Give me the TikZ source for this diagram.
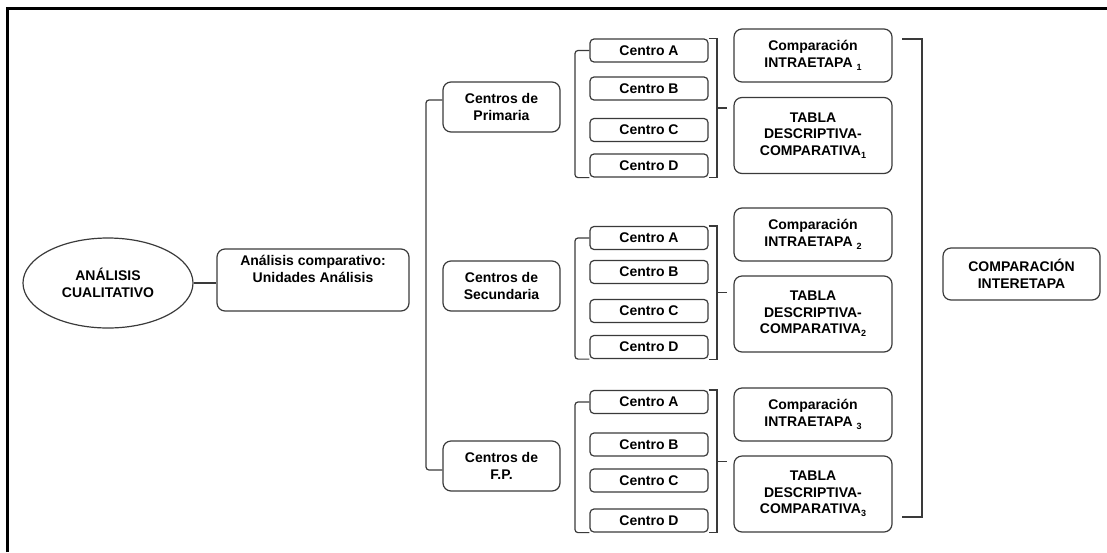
\documentclass[tikz,border=0pt]{standalone}
\usepackage{fontspec}
\setmainfont{Liberation Sans}
\usetikzlibrary{shapes.geometric,calc}
\newcommand{\subidx}[1]{\raisebox{-0.45ex}{\fontsize{9}{9}\selectfont #1}}
\definecolor{linec}{HTML}{3A3A3A}
\begin{document}
\begin{tikzpicture}[x=1pt,y=-1pt,
  every node/.style={font=\bfseries\fontsize{14}{16.5}\selectfont, text=black, align=center, inner sep=1pt},
  conn/.style={draw=linec, line width=1.2pt},
  bigbox/.style={draw=linec, line width=1.2pt, rounded corners=8pt},
  centrobox/.style={draw=linec, line width=1.2pt, rounded corners=4pt, minimum width=118pt, minimum height=23pt},
  intrabox/.style={bigbox, minimum width=158pt, minimum height=53pt},
  tablabox/.style={bigbox, minimum width=158pt, minimum height=76pt},
  centrosbox/.style={bigbox, minimum width=117pt, minimum height=50pt}
]
\useasboundingbox (0,0) rectangle (1107,552);
\draw[line width=3pt] (7,552) -- (7,8) -- (1107,8);

% main nodes
\node[ellipse, draw=linec, line width=1.2pt, minimum width=170pt, minimum height=90pt] (acu) at (108,283) {ANÁLISIS\\CUALITATIVO};
\node[bigbox, minimum width=192pt, minimum height=62pt] (auc) at (313,280) {Análisis comparativo:\\Unidades Análisis\\[6pt]};
\node[centrosbox] (cp) at (501.5,107) {Centros de\\Primaria};
\node[centrosbox] (cs) at (501.5,286) {Centros de\\Secundaria};
\node[centrosbox] (cf) at (501.5,466) {Centros de\\F.P.};

% centro boxes
\node[centrobox] (pa) at (649,50.5) {Centro A};
\node[centrobox] (pb) at (649,88.5) {Centro B};
\node[centrobox] (pc) at (649,130) {Centro C};
\node[centrobox] (pd) at (649,165.5) {Centro D};
\node[centrobox] (sa) at (649,238) {Centro A};
\node[centrobox] (sb) at (649,272) {Centro B};
\node[centrobox] (sc) at (649,311) {Centro C};
\node[centrobox] (sd) at (649,347) {Centro D};
\node[centrobox] (fa) at (649,402) {Centro A};
\node[centrobox] (fb) at (649,444.5) {Centro B};
\node[centrobox] (fc) at (649,480.5) {Centro C};
\node[centrobox] (fd) at (649,520.5) {Centro D};

% comparison boxes
\node[intrabox] (i1) at (813,55.5) {Comparación\\INTRAETAPA \subidx{1}};
\node[tablabox] (t1) at (813,135.5) {TABLA\\DESCRIPTIVA-\\COMPARATIVA\subidx{1}};
\node[intrabox] (i2) at (813,234.5) {Comparación\\INTRAETAPA \subidx{2}};
\node[tablabox] (t2) at (813,314) {TABLA\\DESCRIPTIVA-\\COMPARATIVA\subidx{2}};
\node[intrabox] (i3) at (813,414.5) {Comparación\\INTRAETAPA \subidx{3}};
\node[tablabox] (t3) at (813,494) {TABLA\\DESCRIPTIVA-\\COMPARATIVA\subidx{3}};
\node[bigbox, minimum width=157pt, minimum height=52pt] (inter) at (1021.5,274) {COMPARACIÓN\\INTERETAPA};

% connectors
\draw[conn] (acu.east) -- (acu.east -| auc.west);
\coordinate (tp) at (426,100);
\coordinate (tf) at (426,470);
\draw[conn] ($(auc.east)+(0,5)$) -- ($(auc.east)+(0,5)$ -| tp);
\draw[conn, rounded corners=3pt] (cp.west |- tp) -- (tp) -- (tf) -- (cf.west |- tf);

\coordinate (lx) at (575,0);
\coordinate (rx) at (717,0);
\foreach \p/\a/\d in {cp/pa/pd, cs/sa/sd, cf/fa/fd}{
  \draw[conn] ($(\p.east)+(0,5)$) -- ($(\p.east)+(0,5)$ -| lx);
  \draw[conn, rounded corners=3pt] (\a.west) -- (\a.west -| lx) -- (\d.south west -| lx) -- (\d.south west);
  \draw[conn] (\a.north east) -- (\a.north east -| rx) -- (\d.south east -| rx) -- (\d.south east);
  \coordinate (m\p) at ($(\a.north east)!0.5!(\d.south east)$);
  \draw[conn] (m\p -| rx) -- ++(10,0);
}

\coordinate (bt) at (902,39);
\coordinate (bb) at (902,517);
\coordinate (bx) at (922,0);
\draw[conn] (bt) -- (bt -| bx) -- (bb -| bx) -- (bb);
\draw[conn] ($(inter.west)+(0,4)$ -| bx) -- ($(inter.west)+(0,4)$);
\end{tikzpicture}
\end{document}
